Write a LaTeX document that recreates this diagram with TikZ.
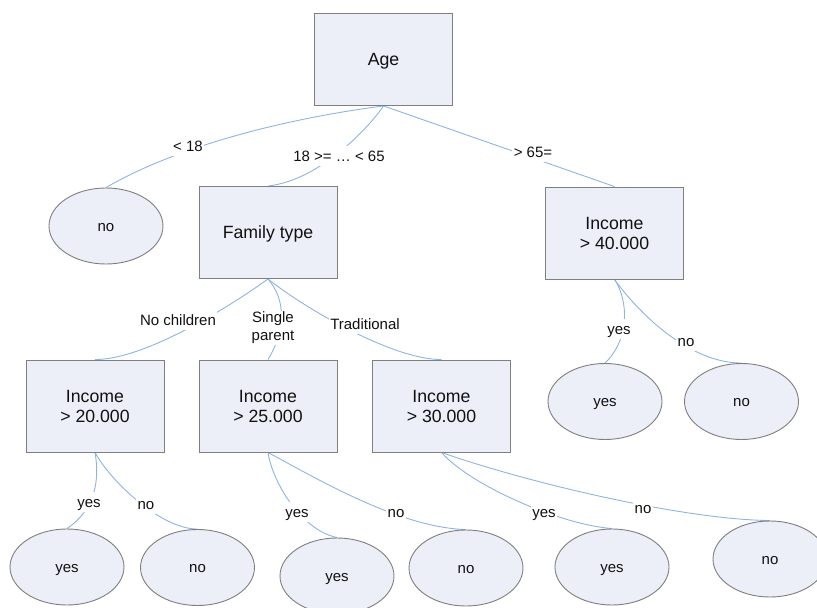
\documentclass[tikz,border=0pt]{standalone}
\usepackage{fontspec}
\setmainfont{Liberation Sans}
\usetikzlibrary{shapes.geometric,backgrounds}
\definecolor{boxfill}{HTML}{ECEFF7}
\definecolor{boxline}{HTML}{7F7F7F}
\definecolor{linkc}{HTML}{8DB4E2}
\definecolor{txt}{HTML}{111111}
\tikzset{
  decision/.style={draw=boxline, fill=boxfill, line width=0.9bp, rectangle,
    minimum width=138bp, minimum height=92bp, inner sep=0pt, align=center,
    text=txt, font=\fontsize{17.7bp}{20bp}\selectfont},
  onelinebox/.style={decision, text height=16bp, text depth=3.75bp},
  leaf/.style={draw=boxline, fill=boxfill, line width=0.9bp, ellipse,
    minimum width=114bp, minimum height=76bp, inner sep=0pt,
    text=txt, font=\fontsize{15bp}{17bp}\selectfont,
    text height=13.6bp, text depth=3.2bp},
  twolinelabel/.style={fill=white, inner sep=1.5bp, align=center, text=txt,
    font=\fontsize{15bp}{18bp}\selectfont},
  elabel/.style={twolinelabel, text height=13.6bp, text depth=3.2bp},
  link/.style={draw=linkc, line width=0.9bp}
}
\begin{document}
\begin{tikzpicture}[x=1bp,y=-1bp]
\useasboundingbox (0,0) rectangle (817,608);
% decision boxes
\node[onelinebox] (age) at (383.5,59.5) {Age};
\node[onelinebox] (fam) at (268,232.5) {Family type};
\node[decision] (inc40) at (614.5,233) {Income\\> 40.000};
\node[decision] (inc20) at (95,406) {Income\\> 20.000};
\node[decision] (inc25) at (268,406) {Income\\> 25.000};
\node[decision] (inc30) at (441.5,406) {Income\\> 30.000};
% leaves
\node[leaf] (l1) at (106,226) {no};
\node[leaf] (l2) at (605,401.5) {yes};
\node[leaf] (l3) at (741.5,401.5) {no};
\node[leaf] (l4) at (67,567) {yes};
\node[leaf] (l5) at (197.5,567.5) {no};
\node[leaf] (l6) at (337,576) {yes};
\node[leaf] (l7) at (466,568) {no};
\node[leaf] (l8) at (612,567) {yes};
\node[leaf] (l9) at (770,559) {no};
% edge labels
\node[elabel] (e1) at (188,146) {< 18};
\node[elabel] (e2) at (339,156) {18 >= … < 65};
\node[elabel] (e3) at (533,152) {> 65=};
\node[elabel] (e4) at (178,320) {No children};
\node[twolinelabel] (e5) at (273,328) {Single\\parent};
\node[elabel] (e6) at (365,324) {Traditional};
\node[elabel] (e7) at (619,329) {yes};
\node[elabel] (e8) at (686,341) {no};
\node[elabel] (e9) at (89,502) {yes};
\node[elabel] (e10) at (146,504) {no};
\node[elabel] (e11) at (297,512) {yes};
\node[elabel] (e12) at (396,512) {no};
\node[elabel] (e13) at (544,512) {yes};
\node[elabel] (e14) at (643,508) {no};
% connectors
\begin{scope}[on background layer]
\draw[link] (age.south) .. controls +(-93,12) and +(74,-43) .. (l1.north);
\draw[link] (age.south) .. controls +(-15,22) and +(52,-6) .. (fam.north);
\draw[link] (age.south) -- (inc40.north);
\draw[link] (fam.south) .. controls +(-23,17) and +(55,0) .. (inc20.north);
\draw[link] (fam.south) .. controls +(18,21) and +(18,-30) .. (inc25.north);
\draw[link] (fam.south) .. controls +(32,26) and +(-51,0) .. (inc30.north);
\draw[link] (inc40.south) .. controls +(14,21) and +(25,-24) .. (l2.north);
\draw[link] (inc40.south) .. controls +(26,36) and +(-51,0) .. (l3.north);
\draw[link] (inc20.south) .. controls +(5,28) and +(28,-19) .. (l4.north);
\draw[link] (inc20.south) .. controls +(15,28) and +(-37,0) .. (l5.north);
\draw[link] (inc25.south) .. controls +(4,28) and +(-37,-8) .. (l6.north);
\draw[link] (inc25.south) .. controls +(52,28) and +(-66,-2) .. (l7.north);
\draw[link] (inc30.south) .. controls +(29,33) and +(-52,-4) .. (l8.north);
\draw[link] (inc30.south) .. controls +(79,28) and +(-90,-1) .. (l9.north);
\end{scope}
\end{tikzpicture}
\end{document}
